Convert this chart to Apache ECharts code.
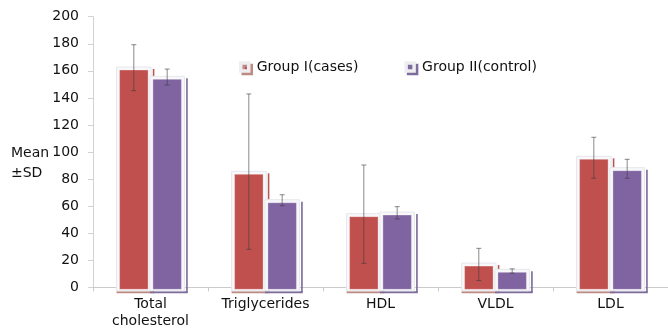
<!DOCTYPE html>
<html>
<head>
<meta charset="utf-8">
<script src="https://cdn.jsdelivr.net/npm/echarts@6/dist/echarts.min.js"></script>
<style>
html,body{margin:0;padding:0;background:#fff;}
#chart{width:668px;height:333px;}
</style>
</head>
<body>
<div id="chart"></div>
<script>
const categories = ['Total\ncholesterol', 'Triglycerides', 'HDL', 'VLDL', 'LDL'];
const seriesNames = ['Group I(cases)', 'Group II(control)'];
const casesMean = [160.6, 83.5, 52.2, 15.7, 94.6];
const casesLow = [145.3, 28.1, 17.7, 5.0, 80.6];
const casesHigh = [179.3, 142.9, 90.4, 28.8, 110.9];
const controlMean = [153.7, 62.5, 53.4, 11.1, 86.2];
const controlLow = [149.5, 60.3, 50.5, 10.4, 80.6];
const controlHigh = [161.3, 68.4, 59.6, 13.6, 94.6];
const yMin = 0, yMax = 200, yStep = 20;

const FONT = 'DejaVu Sans';
const TXT = '#111111';
const fills = ['#C0504D', '#8064A2'];
const shadowV = ['#b65855', '#7a6a98'];
const shadowB = ['#bd8a84', '#7d6c9c'];

function buildData(mean, low, high) {
  return categories.map((c, i) => [i, mean[i], low[i], high[i]]);
}

function makeRender(si) {
  return function (params, api) {
    const ci = api.value(0);
    const base = api.coord([ci, 0]);
    const top = api.coord([ci, api.value(1)]);
    const lo = api.coord([ci, api.value(2)]);
    const hi = api.coord([ci, api.value(3)]);
    const band = api.size([1, 0])[0];
    const w = band * 0.248;
    const off = (si === 0 ? -1 : 1) * band * 0.145;
    const cx = base[0] + off;
    const x = cx - w / 2;
    const yb = base[1] + 2;
    const yt = top[1];
    const children = [];
    children.push({type: 'line', shape: {x1: x + w + 5.5, y1: yt - 1, x2: x + w + 5.5, y2: yb + 3}, style: {stroke: shadowV[si], lineWidth: 1.6}});
    children.push({type: 'line', shape: {x1: x - 3, y1: yb + 3, x2: x + w + 6.3, y2: yb + 3}, style: {stroke: shadowB[si], lineWidth: 2}});
    children.push({type: 'rect', shape: {x: x - 3, y: yt - 3, width: w + 6, height: yb + 1.5 - (yt - 3)}, style: {fill: '#f8f8fa', stroke: '#e6e7ec', lineWidth: 1}});
    children.push({type: 'rect', shape: {x: x, y: yt, width: w, height: yb - yt}, style: {fill: fills[si], stroke: 'rgba(255,255,255,0.3)', lineWidth: 1}});
    const ec = 'rgba(60,60,60,0.6)';
    children.push({type: 'line', shape: {x1: cx, y1: hi[1], x2: cx, y2: lo[1]}, style: {stroke: ec, lineWidth: 1}});
    children.push({type: 'line', shape: {x1: cx - 2.5, y1: hi[1], x2: cx + 2.5, y2: hi[1]}, style: {stroke: ec, lineWidth: 1}});
    children.push({type: 'line', shape: {x1: cx - 2.5, y1: lo[1], x2: cx + 2.5, y2: lo[1]}, style: {stroke: ec, lineWidth: 1}});
    return {type: 'group', children: children};
  };
}

const chart = echarts.init(document.getElementById('chart'), null, {renderer: 'canvas'});
chart.setOption({
  backgroundColor: '#fff',
  animation: false,
  title: {
    text: 'Mean\n±SD',
    left: 11, top: 143, padding: 0,
    textStyle: {fontFamily: FONT, fontSize: 14, fontWeight: 'normal', lineHeight: 20, color: TXT}
  },
  legend: {
    left: 239, top: 59, padding: 0, itemGap: 46,
    itemWidth: 8, itemHeight: 8,
    icon: 'rect',
    textStyle: {fontFamily: FONT, fontSize: 14, color: TXT, padding: [0, 0, 0, 3], lineHeight: 16},
    data: [
      {name: seriesNames[0], itemStyle: {color: fills[0], borderColor: '#eeeef1', borderWidth: 3.5, shadowColor: shadowB[0], shadowOffsetX: 2.5, shadowOffsetY: 2.5, shadowBlur: 0}},
      {name: seriesNames[1], itemStyle: {color: fills[1], borderColor: '#eeeef1', borderWidth: 3.5, shadowColor: shadowB[1], shadowOffsetX: 2.5, shadowOffsetY: 2.5, shadowBlur: 0}}
    ]
  },
  grid: {left: 93, right: -10, top: 16.7, bottom: 45.7, containLabel: false},
  xAxis: {
    type: 'category',
    data: categories,
    boundaryGap: true,
    axisLine: {show: true, lineStyle: {color: '#cacaca', width: 1}},
    axisTick: {show: true, length: 4, lineStyle: {color: '#cacaca'}},
    axisLabel: {interval: 0, fontFamily: FONT, fontSize: 14, color: TXT, margin: 9, lineHeight: 17},
    splitLine: {show: false}
  },
  yAxis: {
    type: 'value',
    min: yMin, max: yMax, interval: yStep,
    axisLine: {show: true, lineStyle: {color: '#d2d2d2', width: 1}},
    axisTick: {show: true, length: 5, lineStyle: {color: '#d2d2d2'}},
    axisLabel: {fontFamily: FONT, fontSize: 14, color: TXT, margin: 14},
    splitLine: {show: false}
  },
  series: [
    {name: seriesNames[0], type: 'custom', renderItem: makeRender(0), itemStyle: {color: fills[0]},
     encode: {x: 0, y: 1}, data: buildData(casesMean, casesLow, casesHigh)},
    {name: seriesNames[1], type: 'custom', renderItem: makeRender(1), itemStyle: {color: fills[1]},
     encode: {x: 0, y: 1}, data: buildData(controlMean, controlLow, controlHigh)}
  ]
});
</script>
</body>
</html>
